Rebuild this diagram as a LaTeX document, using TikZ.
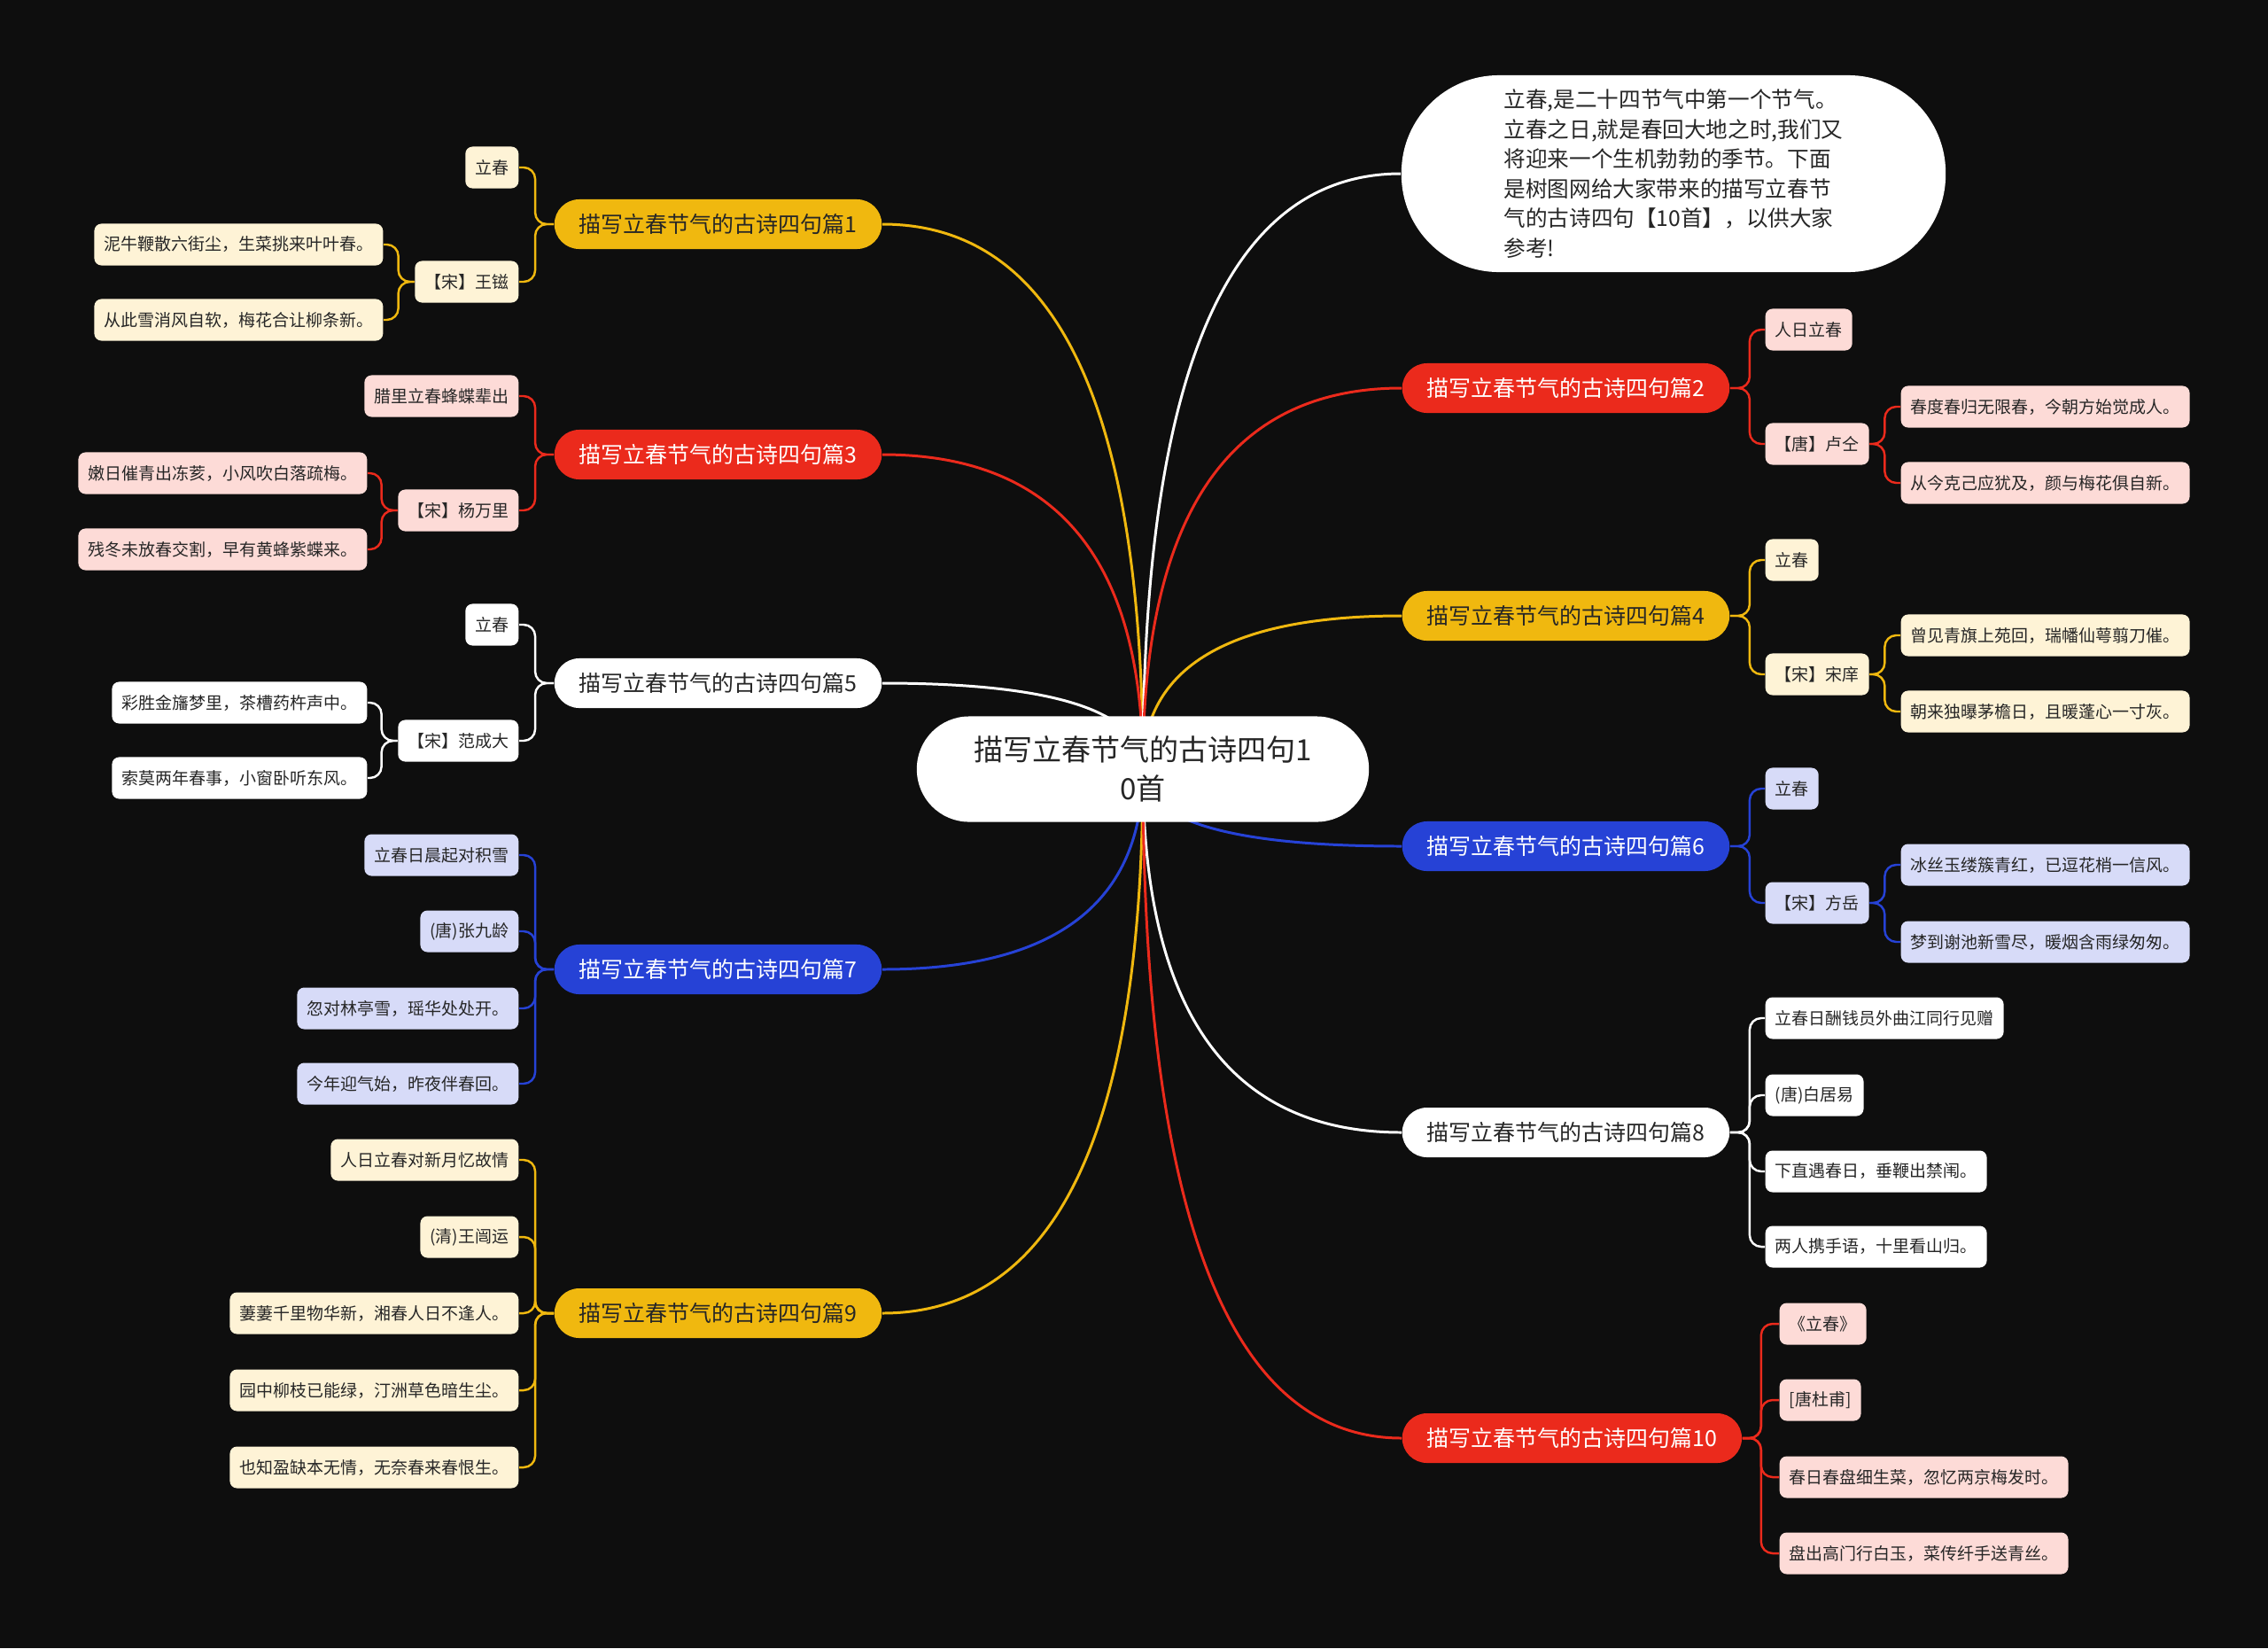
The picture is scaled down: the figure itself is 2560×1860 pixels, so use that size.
\documentclass[tikz,border=0pt]{standalone}
\usepackage{fontspec}
\setmainfont{Noto Sans CJK SC}
\usepackage{tikz}
\usetikzlibrary{positioning, calc}

\definecolor{bgdark}{HTML}{0E0E0E}
\definecolor{cyel}{HTML}{F0B80F}
\definecolor{cred}{HTML}{EB2A1C}
\definecolor{cblue}{HTML}{2642D6}
\definecolor{lyel}{HTML}{FEF3D6}
\definecolor{lred}{HTML}{FDDBD7}
\definecolor{lblue}{HTML}{D7DBF8}
\definecolor{txtdark}{HTML}{262626}

\pgfdeclarelayer{bg}
\pgfdeclarelayer{links}
\pgfsetlayers{bg,links,main}

\begin{document}
\begin{tikzpicture}[
    x=0.01cm, y=-0.01cm,
    % --- STYLES ---
    root/.style={
        rectangle, rounded corners=0.59cm,
        fill=white, text=txtdark,
        minimum width=5.1cm, minimum height=1.19cm,
        align=center, font=\fontsize{9.4pt}{12.5pt}\selectfont
    },
    intro/.style={
        rectangle, rounded corners=1.1cm,
        fill=white, text=txtdark,
        minimum width=6.14cm, minimum height=2.22cm,
        align=left, font=\fontsize{7pt}{9.55pt}\selectfont
    },
    topic/.style={
        rectangle, rounded corners=0.28cm,
        minimum height=0.56cm, inner xsep=0.28cm, inner ysep=0pt,
        font=\fontsize{7.1pt}{8.5pt}\selectfont
    },
    tyel/.style={topic, fill=cyel, text=txtdark, anchor=#1},
    tred/.style={topic, fill=cred, text=white, anchor=#1},
    tblue/.style={topic, fill=cblue, text=white, anchor=#1},
    twhite/.style={topic, fill=white, text=txtdark, anchor=#1},
    leaf/.style={
        rectangle, rounded corners=0.08cm,
        minimum height=0.47cm, inner xsep=0.11cm, inner ysep=0pt,
        text=txtdark, font=\fontsize{5.4pt}{6.5pt}\selectfont
    },
    lyl/.style={leaf, fill=lyel, anchor=#1},
    lrd/.style={leaf, fill=lred, anchor=#1},
    lbl/.style={leaf, fill=lblue, anchor=#1},
    lwt/.style={leaf, fill=white, anchor=#1},
    link/.style={line width=0.85pt},
    sublink/.style={line width=0.7pt, rounded corners=0.13cm}
]

% ===== 0. CANVAS =====
\useasboundingbox (0,0) rectangle (2560,1860);
\begin{pgfonlayer}{bg}
    \fill[bgdark] (0,0) rectangle (2560,1860);
\end{pgfonlayer}

% ===== 1. CENTRE =====
\node[root] (root) at (1290,868) {描写立春节气的古诗四句1\\0首};

\node[intro] (intro) at (1889,196) {立春,是二十四节气中第一个节气。\\
立春之日,就是春回大地之时,我们又\\
将迎来一个生机勃勃的季节。下面\\
是树图网给大家带来的描写立春节\\
气的古诗四句【10首】，以供大家\\
参考!};

% ===== 2. TOPICS =====
% left side
\node[tyel=east] (b1) at (996,253) {描写立春节气的古诗四句篇1};
\node[tred=east] (b3) at (996,513) {描写立春节气的古诗四句篇3};
\node[twhite=east] (b5) at (996,771) {描写立春节气的古诗四句篇5};
\node[tblue=east] (b7) at (996,1094) {描写立春节气的古诗四句篇7};
\node[tyel=east] (b9) at (996,1482) {描写立春节气的古诗四句篇9};

% right side
\node[tred=west] (b2) at (1582,438) {描写立春节气的古诗四句篇2};
\node[tyel=west] (b4) at (1582,695) {描写立春节气的古诗四句篇4};
\node[tblue=west] (b6) at (1582,955) {描写立春节气的古诗四句篇6};
\node[twhite=west] (b8) at (1582,1278) {描写立春节气的古诗四句篇8};
\node[tred=west] (b10) at (1582,1623) {描写立春节气的古诗四句篇10};

% ===== 3. LEAVES, LEFT =====
% 篇1
\node[lyl=east] (l1a) at (586,189) {立春};
\node[lyl=east] (l1b) at (586,318) {【宋】王镃};
\node[lyl=east] (l1b1) at (433,276) {泥牛鞭散六街尘，生菜挑来叶叶春。};
\node[lyl=east] (l1b2) at (433,361) {从此雪消风自软，梅花合让柳条新。};

% 篇3
\node[lrd=east] (l3a) at (586,447) {腊里立春蜂蝶辈出};
\node[lrd=east] (l3b) at (586,576) {【宋】杨万里};
\node[lrd=east] (l3b1) at (415,534) {嫩日催青出冻荄，小风吹白落疏梅。};
\node[lrd=east] (l3b2) at (415,620) {残冬未放春交割，早有黄蜂紫蝶来。};

% 篇5
\node[lwt=east] (l5a) at (586,705) {立春};
\node[lwt=east] (l5b) at (586,836) {【宋】范成大};
\node[lwt=east] (l5b1) at (415,793) {彩胜金旛梦里，茶槽药杵声中。};
\node[lwt=east] (l5b2) at (415,878) {索莫两年春事，小窗卧听东风。};

% 篇7
\node[lbl=east] (l7a) at (586,965) {立春日晨起对积雪};
\node[lbl=east] (l7b) at (586,1051) {(唐)张九龄};
\node[lbl=east] (l7c) at (586,1138) {忽对林亭雪，瑶华处处开。};
\node[lbl=east] (l7d) at (586,1223) {今年迎气始，昨夜伴春回。};

% 篇9
\node[lyl=east] (l9a) at (586,1309) {人日立春对新月忆故情};
\node[lyl=east] (l9b) at (586,1396) {(清)王闿运};
\node[lyl=east] (l9c) at (586,1482) {萋萋千里物华新，湘春人日不逢人。};
\node[lyl=east] (l9d) at (586,1569) {园中柳枝已能绿，汀洲草色暗生尘。};
\node[lyl=east] (l9e) at (586,1656) {也知盈缺本无情，无奈春来春恨生。};

% ===== 4. LEAVES, RIGHT =====
% 篇2
\node[lrd=west] (r2a) at (1992,372) {人日立春};
\node[lrd=west] (r2b) at (1992,501) {【唐】卢仝};
\node[lrd=west] (r2b1) at (2145,459) {春度春归无限春，今朝方始觉成人。};
\node[lrd=west] (r2b2) at (2145,545) {从今克己应犹及，颜与梅花俱自新。};

% 篇4
\node[lyl=west] (r4a) at (1992,632) {立春};
\node[lyl=west] (r4b) at (1992,761) {【宋】宋庠};
\node[lyl=west] (r4b1) at (2145,717) {曾见青旗上苑回，瑞幡仙萼翦刀催。};
\node[lyl=west] (r4b2) at (2145,803) {朝来独曝茅檐日，且暖蓬心一寸灰。};

% 篇6
\node[lbl=west] (r6a) at (1992,890) {立春};
\node[lbl=west] (r6b) at (1992,1019) {【宋】方岳};
\node[lbl=west] (r6b1) at (2145,976) {冰丝玉缕簇青红，已逗花梢一信风。};
\node[lbl=west] (r6b2) at (2145,1063) {梦到谢池新雪尽，暖烟含雨绿匆匆。};

% 篇8
\node[lwt=west] (r8a) at (1992,1149) {立春日酬钱员外曲江同行见赠};
\node[lwt=west] (r8b) at (1992,1236) {(唐)白居易};
\node[lwt=west] (r8c) at (1992,1322) {下直遇春日，垂鞭出禁闱。};
\node[lwt=west] (r8d) at (1992,1407) {两人携手语，十里看山归。};

% 篇10
\node[lrd=west] (r10a) at (2008,1494) {《立春》};
\node[lrd=west] (r10b) at (2008,1580) {[唐杜甫]};
\node[lrd=west] (r10c) at (2008,1667) {春日春盘细生菜，忽忆两京梅发时。};
\node[lrd=west] (r10d) at (2008,1753) {盘出高门行白玉，菜传纤手送青丝。};

% ===== 5. CONNECTIONS =====
\begin{pgfonlayer}{links}
% -- centre to topics --
\draw[link, cyel] (root.center) .. controls +(0,-410) and +(196,0) .. (b1.east);
\draw[link, cred] (root.center) .. controls +(0,-237) and +(196,0) .. (b3.east);
\draw[link, white] (root.center) .. controls +(0,-65) and +(196,0) .. (b5.east);
\draw[link, cblue] (root.center) .. controls +(0,151) and +(196,0) .. (b7.east);
\draw[link, cyel] (root.center) .. controls +(0,409) and +(196,0) .. (b9.east);

\draw[link, white] (root.center) .. controls +(0,-448) and +(-195,0) .. (intro.west);
\draw[link, cred] (root.center) .. controls +(0,-287) and +(-195,0) .. (b2.west);
\draw[link, cyel] (root.center) .. controls +(0,-115) and +(-195,0) .. (b4.west);
\draw[link, cblue] (root.center) .. controls +(0,58) and +(-195,0) .. (b6.west);
\draw[link, white] (root.center) .. controls +(0,273) and +(-195,0) .. (b8.west);
\draw[link, cred] (root.center) .. controls +(0,503) and +(-195,0) .. (b10.west);

% -- topics to leaves, left --
\foreach \leaf in {l1a,l1b}
    \draw[sublink, cyel] (b1.west) -- ++(-21,0) |- (\leaf.east);
\foreach \leaf in {l1b1,l1b2}
    \draw[sublink, cyel] (l1b.west) -- ++(-18,0) |- (\leaf.east);

\foreach \leaf in {l3a,l3b}
    \draw[sublink, cred] (b3.west) -- ++(-21,0) |- (\leaf.east);
\foreach \leaf in {l3b1,l3b2}
    \draw[sublink, cred] (l3b.west) -- ++(-18,0) |- (\leaf.east);

\foreach \leaf in {l5a,l5b}
    \draw[sublink, white] (b5.west) -- ++(-21,0) |- (\leaf.east);
\foreach \leaf in {l5b1,l5b2}
    \draw[sublink, white] (l5b.west) -- ++(-18,0) |- (\leaf.east);

\foreach \leaf in {l7a,l7b,l7c,l7d}
    \draw[sublink, cblue] (b7.west) -- ++(-21,0) |- (\leaf.east);

\foreach \leaf in {l9a,l9b,l9c,l9d,l9e}
    \draw[sublink, cyel] (b9.west) -- ++(-21,0) |- (\leaf.east);

% -- topics to leaves, right --
\foreach \leaf in {r2a,r2b}
    \draw[sublink, cred] (b2.east) -- ++(22,0) |- (\leaf.west);
\foreach \leaf in {r2b1,r2b2}
    \draw[sublink, cred] (r2b.east) -- ++(17,0) |- (\leaf.west);

\foreach \leaf in {r4a,r4b}
    \draw[sublink, cyel] (b4.east) -- ++(22,0) |- (\leaf.west);
\foreach \leaf in {r4b1,r4b2}
    \draw[sublink, cyel] (r4b.east) -- ++(17,0) |- (\leaf.west);

\foreach \leaf in {r6a,r6b}
    \draw[sublink, cblue] (b6.east) -- ++(22,0) |- (\leaf.west);
\foreach \leaf in {r6b1,r6b2}
    \draw[sublink, cblue] (r6b.east) -- ++(17,0) |- (\leaf.west);

\foreach \leaf in {r8a,r8b,r8c,r8d}
    \draw[sublink, white] (b8.east) -- ++(22,0) |- (\leaf.west);

\foreach \leaf in {r10a,r10b,r10c,r10d}
    \draw[sublink, cred] (b10.east) -- ++(21,0) |- (\leaf.west);
\end{pgfonlayer}

\end{tikzpicture}
\end{document}
